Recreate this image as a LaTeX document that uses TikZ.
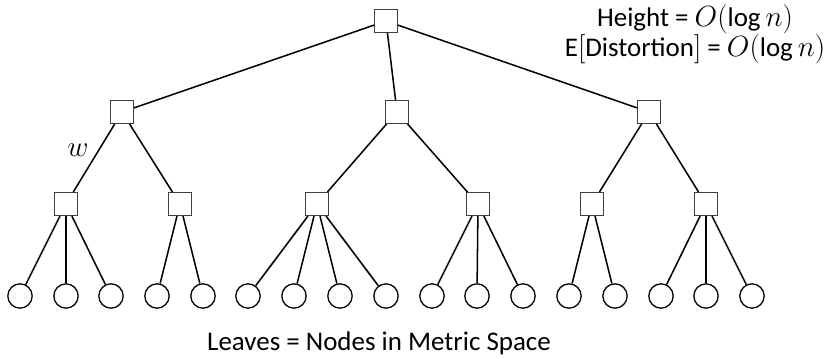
\documentclass[tikz,border=0pt]{standalone}
\usepackage{fontspec}
\setmainfont{Carlito}
\begin{document}
\begin{tikzpicture}[x=0.03cm, y=-0.03cm,
    branch/.style={draw=black!75, rectangle, minimum size=0.69cm, inner sep=0pt, line width=0.8pt},
    leaf/.style={draw, circle, minimum size=0.73cm, inner sep=0pt, line width=1.1pt},
    edge/.style={line width=1.3pt},
    txt/.style={font=\fontsize{23}{24}\selectfont, align=center, inner sep=0pt}]
    \useasboundingbox (0,0) rectangle (828,359);
    % internal tree nodes
    \node[branch] (root) at (386, 21)  {};
    \node[branch] (a)    at (122, 112) {};
    \node[branch] (b)    at (397, 112) {};
    \node[branch] (c)    at (649, 112) {};
    \node[branch] (a1)   at (66, 204)  {};
    \node[branch] (a2)   at (180, 204) {};
    \node[branch] (b1)   at (317, 204) {};
    \node[branch] (b2)   at (478, 204) {};
    \node[branch] (c1)   at (592, 204) {};
    \node[branch] (c2)   at (706, 204) {};
    % leaves
    \foreach \x [count=\i] in {20,66,111,157,203,248,294,340,386,432,477,523,569,615,661,706,752}
        \node[leaf] (l\i) at (\x, 296) {};
    \foreach \a/\b in {root/a, root/b, root/c, a/a1, a/a2, b/b1, b/b2, c/c1, c/c2,
                       a1/l1, a1/l2, a1/l3, a2/l4, a2/l5,
                       b1/l6, b1/l7, b1/l8, b1/l9, b2/l10, b2/l11, b2/l12,
                       c1/l13, c1/l14, c2/l15, c2/l16, c2/l17}
        \draw[edge] (\a) -- (\b);
    % labels
    \node[txt] (w) at (78, 150) {$w$};
    \node[txt] (bounds) at (695, 34) {Height = $O(\log n)$\\$\mathrm{E}[$Distortion$]$ = $O(\log n)$};
    \node[txt] (caption) at (379, 343) {Leaves = Nodes in Metric Space};
\end{tikzpicture}
\end{document}
